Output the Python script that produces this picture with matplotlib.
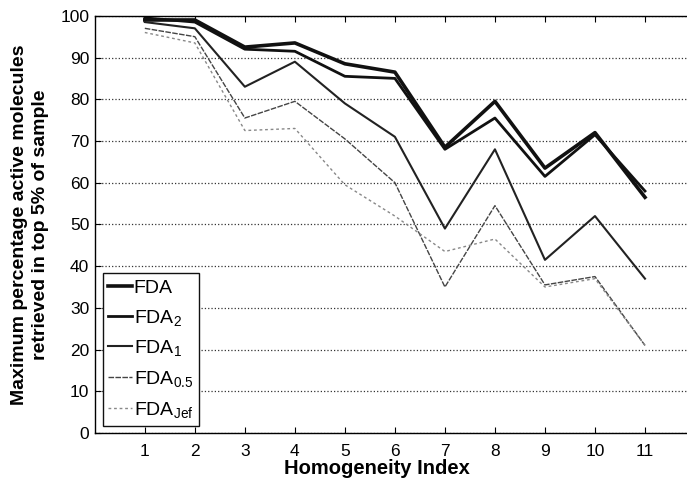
import numpy as np
import matplotlib
matplotlib.use('Agg')
import matplotlib.pyplot as plt

plt.rcParams['font.family'] = ['Liberation Sans', 'DejaVu Sans']
plt.rcParams['mathtext.fontset'] = 'custom'
plt.rcParams['mathtext.rm'] = 'Liberation Sans'
plt.rcParams['mathtext.it'] = 'Liberation Sans'

# Homogeneity index values
hom_index = [1, 2, 3, 4, 5, 6, 7, 8, 9, 10, 11]

# Max % active molecules retrieved in top 5% of sample
fda = [99.0, 99.0, 92.5, 93.5, 88.5, 86.5, 68.5, 79.5, 63.5, 72.0, 56.5]
fda_2 = [99.5, 98.5, 92.0, 91.5, 85.5, 85.0, 68.0, 75.5, 61.5, 71.5, 58.0]
fda_1 = [98.5, 97.0, 83.0, 89.0, 79.0, 71.0, 49.0, 68.0, 41.5, 52.0, 37.0]
fda_05 = [97.0, 95.0, 75.5, 79.5, 70.5, 60.0, 35.0, 54.5, 35.5, 37.5, 21.0]
fda_jef = [96.0, 93.5, 72.5, 73.0, 59.5, 52.0, 43.5, 46.5, 35.0, 37.0, 21.0]

labels = ['FDA', r'FDA$_\mathrm{2}$', r'FDA$_\mathrm{1}$', r'FDA$_\mathrm{0.5}$', r'FDA$_\mathrm{Jef}$']

fig = plt.figure(figsize=(6.87, 4.79), dpi=100)
ax = fig.add_axes([0.138, 0.096, 0.862, 0.871])

ax.plot(hom_index, fda, color='#111111', lw=2.6, label=labels[0])
ax.plot(hom_index, fda_2, color='#111111', lw=2.0, label=labels[1])
ax.plot(hom_index, fda_1, color='#222222', lw=1.5, label=labels[2])
ax.plot(hom_index, fda_05, color='#444444', lw=1.0, ls=(0, (4, 1)), label=labels[3])
ax.plot(hom_index, fda_jef, color='#888888', lw=1.0, ls=(0, (2, 2)), label=labels[4])

ax.set_xlim(0, 11.84)
ax.set_ylim(0, 100)
ax.set_xticks(hom_index)
ax.set_yticks(np.arange(0, 101, 10))
ax.yaxis.grid(True, ls=':', color='#333333', lw=0.9)
ax.set_axisbelow(True)
ax.tick_params(direction='in', top=True, labelsize=12.5, length=4, width=0.8)
ax.tick_params(axis='x', pad=8)
ax.tick_params(axis='y', pad=4)
ax.spines['right'].set_visible(False)
for s in ['left', 'bottom', 'top']:
    ax.spines[s].set_linewidth(1.0)

ax.set_xlabel('Homogeneity Index', fontsize=14.5, fontweight='bold', labelpad=0)
ax.xaxis.label.set_x(0.476)
ax.set_ylabel('Maximum percentage active molecules\nretrieved in top 5% of sample',
              fontsize=14, fontweight='bold', labelpad=8, linespacing=1.3)

leg = ax.legend(loc='lower left', bbox_to_anchor=(0.013, 0.018), fontsize=14,
                handlelength=1.2, handletextpad=0.1, borderpad=0.3,
                labelspacing=0.55, fancybox=False, framealpha=1,
                edgecolor='#111111', borderaxespad=0)
leg.get_frame().set_linewidth(1.0)

fig.savefig('out.png', dpi=100)
